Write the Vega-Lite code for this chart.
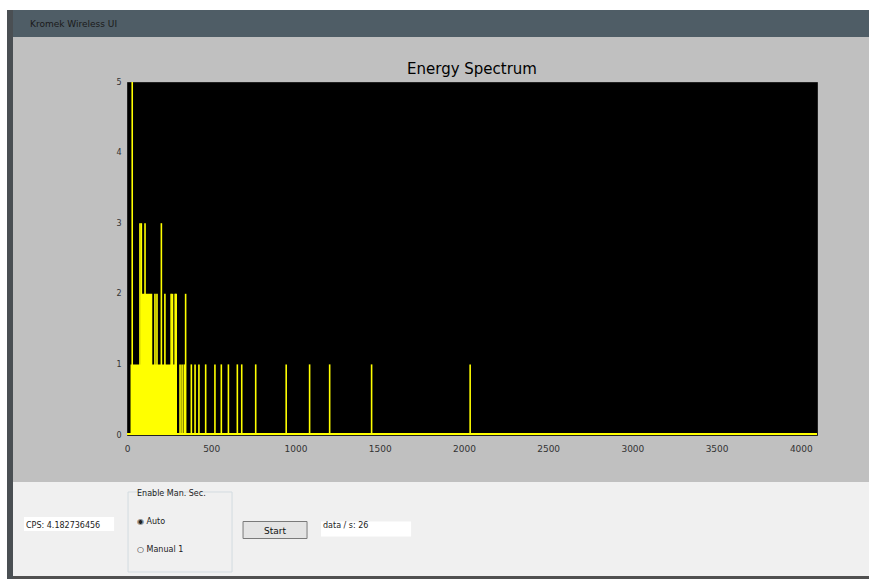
{
  "$schema": "https://vega.github.io/schema/vega-lite/v6.json",
  "background": "#c0c0c0",
  "padding": 0,
  "config": {"view": {"stroke": null}, "font": "DejaVu Sans"},
  "datasets": {
    "fill": [
      {"ch": 0, "counts": 0},
      {"ch": 21, "counts": 1},
      {"ch": 81, "counts": 2},
      {"ch": 150, "counts": 1},
      {"ch": 296, "counts": 0},
      {"ch": 4096, "counts": 0}
    ],
    "spikes": [
      {"ch": 31, "counts": 5},
      {"ch": 77, "counts": 3},
      {"ch": 85, "counts": 3},
      {"ch": 107, "counts": 3},
      {"ch": 204, "counts": 3},
      {"ch": 166, "counts": 2},
      {"ch": 178, "counts": 2},
      {"ch": 225, "counts": 2},
      {"ch": 262, "counts": 2},
      {"ch": 270, "counts": 2},
      {"ch": 286, "counts": 2},
      {"ch": 292, "counts": 2},
      {"ch": 348, "counts": 2},
      {"ch": 315, "counts": 1},
      {"ch": 327, "counts": 1},
      {"ch": 340, "counts": 1},
      {"ch": 382, "counts": 1},
      {"ch": 404, "counts": 1},
      {"ch": 427, "counts": 1},
      {"ch": 467, "counts": 1},
      {"ch": 522, "counts": 1},
      {"ch": 560, "counts": 1},
      {"ch": 602, "counts": 1},
      {"ch": 655, "counts": 1},
      {"ch": 681, "counts": 1},
      {"ch": 764, "counts": 1},
      {"ch": 945, "counts": 1},
      {"ch": 1084, "counts": 1},
      {"ch": 1203, "counts": 1},
      {"ch": 1452, "counts": 1},
      {"ch": 2037, "counts": 1}
    ],
    "widgets": [
      {"widget": "CPS readout", "row": "middle", "label": "CPS: 4.182736456"},
      {"widget": "Enable Man. Sec.", "row": "top", "label": "Enable Man. Sec."},
      {"widget": "Enable Man. Sec.", "row": "middle", "label": "◉ Auto"},
      {"widget": "Enable Man. Sec.", "row": "bottom", "label": "○ Manual  1"},
      {"widget": "Start", "row": "middle", "label": "Start"},
      {"widget": "Rate readout", "row": "middle", "label": "data / s: 26"}
    ]
  },
  "spacing": 0,
  "hconcat": [
    {
      "width": 7, "height": 579,
      "view": {"fill": "#ffffff", "stroke": null},
      "data": {"values": []},
      "mark": "rect",
      "encoding": {}
    },
    {
      "spacing": 0,
      "vconcat": [
        {
          "width": 6, "height": 10,
          "view": {"fill": "#ffffff", "stroke": null},
          "data": {"values": []},
          "mark": "rect",
          "encoding": {}
        },
        {
          "width": 6, "height": 569,
          "view": {"fill": "#4a4f53", "stroke": null},
          "data": {"values": []},
          "mark": "rect",
          "encoding": {}
        }
      ]
    },
    {
      "spacing": 28,
      "vconcat": [
        {
          "spacing": 24,
          "vconcat": [
            {
              "spacing": 0,
              "vconcat": [
                {
                  "width": 856, "height": 10,
                  "view": {"fill": "#ffffff", "stroke": null},
                  "data": {"values": []},
                  "mark": "rect",
                  "encoding": {}
                },
                {
                  "width": 856, "height": 27,
                  "view": {"fill": "#4f5d66", "stroke": null},
                  "title": {"text": "Kromek Wireless UI", "anchor": "start", "offset": -19, "dx": 17, "fontSize": 9, "fontWeight": "normal", "color": "#1a1a1a", "font": "DejaVu Sans"},
                  "data": {"values": []},
                  "mark": "rect",
                  "encoding": {}
                }
              ]
            },
            {
              "spacing": 15,
              "hconcat": [
                {
                  "width": 87, "height": 1,
                  "view": {"fill": "#c0c0c0", "stroke": null},
                  "data": {"values": []},
                  "mark": "rect",
                  "encoding": {}
                },
                {
                  "width": 690, "height": 353,
                  "view": {"fill": "#000000", "stroke": "#222222"},
                  "title": {"text": "Energy Spectrum", "fontSize": 15, "fontWeight": "normal", "color": "#000000", "offset": 1, "font": "DejaVu Sans"},
                  "layer": [
                    {
                      "data": {"name": "fill"},
                      "mark": {"type": "area", "interpolate": "step-after", "color": "#ffff00"},
                      "encoding": {
                        "x": {"field": "ch", "type": "quantitative", "scale": {"domain": [0, 4096], "nice": false, "zero": false},
                          "axis": {"values": [0, 500, 1000, 1500, 2000, 2500, 3000, 3500, 4000], "format": "d", "labelFontSize": 9, "labelColor": "#333333", "ticks": false, "labelPadding": 9, "domain": false, "grid": false, "title": null, "labelFlush": false}},
                        "y": {"field": "counts", "type": "quantitative", "scale": {"domain": [0, 5], "nice": false},
                          "axis": {"values": [0, 1, 2, 3, 4, 5], "format": "d", "labelFontSize": 8, "labelColor": "#333333", "ticks": false, "labelPadding": 6, "domain": false, "grid": false, "title": null, "labelFlush": false}}
                      }
                    },
                    {
                      "data": {"name": "spikes"},
                      "mark": {"type": "rule", "color": "#ffff00", "strokeWidth": 1.6},
                      "encoding": {
                        "x": {"field": "ch", "type": "quantitative"},
                        "y": {"field": "counts", "type": "quantitative"},
                        "y2": {"datum": 0}
                      }
                    },
                    {
                      "data": {"values": [{}]},
                      "mark": {"type": "rule", "color": "#ffff00", "strokeWidth": 2, "yOffset": -1},
                      "encoding": {"y": {"datum": 0}}
                    }
                  ]
                }
              ]
            }
          ]
        },
        {
          "spacing": 0,
          "vconcat": [
            {
              "spacing": 0,
              "hconcat": [
                {
                  "width": 420, "height": 94,
                  "view": {"fill": "#f0f0f0", "stroke": null},
                  "data": {"name": "widgets"},
                  "encoding": {
                    "x": {"field": "widget", "type": "nominal", "scale": {"type": "band", "domain": ["CPS readout", "Enable Man. Sec.", "Start", "Rate readout"], "paddingInner": 0.09, "paddingOuter": 0.1662, "align": 0.334}, "axis": null},
                    "y": {"field": "row", "type": "nominal", "scale": {"type": "point", "domain": ["top", "middle", "bottom"], "padding": 0.679, "align": 0.316}, "axis": null}
                  },
                  "layer": [
                    {
                      "transform": [{"filter": "datum.widget == 'Enable Man. Sec.' && datum.row == 'middle'"}],
                      "mark": {"type": "rect", "fill": null, "stroke": "#d3dbe0", "strokeWidth": 1, "width": 104, "height": 80, "xOffset": 12, "yOffset": 10}
                    },
                    {
                      "transform": [{"filter": "datum.widget == 'CPS readout'"}],
                      "mark": {"type": "rect", "color": "#ffffff", "height": 14, "yOffset": 2}
                    },
                    {
                      "transform": [{"filter": "datum.widget == 'Rate readout'"}],
                      "mark": {"type": "rect", "color": "#ffffff", "height": 15, "yOffset": 7}
                    },
                    {
                      "transform": [{"filter": "datum.widget == 'Start'"}],
                      "mark": {"type": "rect", "fill": "#e4e4e4", "stroke": "#7a7a7a", "strokeWidth": 1, "width": 64, "height": 17, "xOffset": 8, "yOffset": 8}
                    },
                    {
                      "transform": [{"filter": "datum.widget == 'CPS readout' || datum.widget == 'Rate readout'"}],
                      "mark": {"type": "text", "align": "left", "baseline": "middle", "fontSize": 8, "color": "#222222", "font": "DejaVu Sans", "dx": -43, "dy": 4},
                      "encoding": {"text": {"field": "label"}}
                    },
                    {
                      "transform": [{"filter": "datum.widget == 'Enable Man. Sec.'"}],
                      "mark": {"type": "text", "align": "left", "baseline": "middle", "fontSize": 8, "color": "#222222", "font": "DejaVu Sans", "dx": -31},
                      "encoding": {"text": {"field": "label"}}
                    },
                    {
                      "transform": [{"filter": "datum.widget == 'Start'"}],
                      "mark": {"type": "text", "align": "center", "baseline": "middle", "fontSize": 9, "color": "#111111", "font": "DejaVu Sans", "dx": 8, "dy": 9},
                      "encoding": {"text": {"field": "label"}}
                    }
                  ]
                },
                {
                  "width": 436, "height": 94,
                  "view": {"fill": "#f0f0f0", "stroke": null},
                  "data": {"values": []},
                  "mark": "rect",
                  "encoding": {}
                }
              ]
            },
            {
              "width": 856, "height": 3,
              "view": {"fill": "#505050", "stroke": null},
              "data": {"values": []},
              "mark": "rect",
              "encoding": {}
            }
          ]
        }
      ]
    }
  ]
}
